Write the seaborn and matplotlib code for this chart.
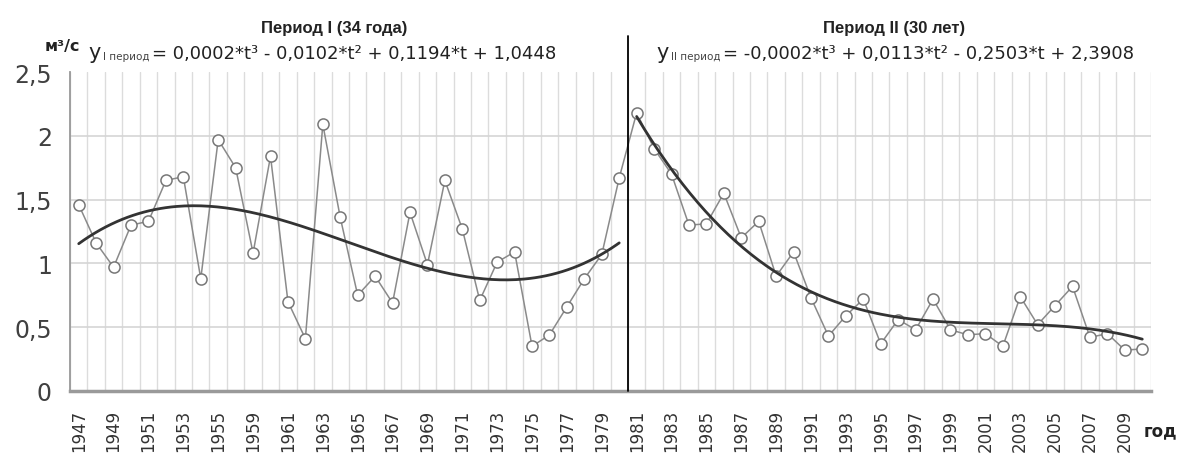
import numpy as np
import pandas as pd
import matplotlib
matplotlib.use("Agg")
import matplotlib.pyplot as plt
import seaborn as sns

# Period I (1947-1980), as plotted (one category per point)
years_1 = list(range(1947, 1956)) + [1958] + list(range(1959, 1981))
flow_1 = [1.46, 1.16, 0.97, 1.30, 1.33, 1.65, 1.68, 0.88, 1.97, 1.75,
          1.08, 1.84, 0.70, 0.41, 2.09, 1.36, 0.75, 0.90, 0.69, 1.40,
          0.99, 1.65, 1.27, 0.71, 1.01, 1.09, 0.35, 0.44, 0.66, 0.88,
          1.07, 1.67]

# Period II (1981-2010)
years_2 = list(range(1981, 2011))
flow_2 = [2.18, 1.90, 1.70, 1.30, 1.31, 1.55, 1.20, 1.33, 0.90, 1.09,
          0.73, 0.43, 0.59, 0.72, 0.37, 0.56, 0.48, 0.72, 0.48, 0.44,
          0.45, 0.35, 0.74, 0.52, 0.67, 0.82, 0.42, 0.45, 0.32, 0.33]

y_ticks = [0, 0.5, 1, 1.5, 2, 2.5]
y_labels = ['0', '0,5', '1', '1,5', '2', '2,5']

title_1 = "Период I (34 года)"
title_2 = "Период II (30 лет)"
eq_1 = "= 0,0002*t³ - 0,0102*t² + 0,1194*t + 1,0448"
eq_2 = "= -0,0002*t³ + 0,0113*t² - 0,2503*t + 2,3908"

W, H = 1178, 456


def px(x, y):
    return x / W, 1 - y / H


sns.set_style("white")
plt.rcParams['font.family'] = ['DejaVu Sans']
arial = ['Liberation Sans', 'DejaVu Sans']

years = years_1 + years_2
df = pd.DataFrame({'idx': np.arange(len(years)), 'flow': flow_1 + flow_2})

fig = plt.figure(figsize=(W / 100, H / 100), dpi=100)
ax = fig.add_axes([70 / W, (H - 392) / H, (1151 - 70) / W, (392 - 73) / H])

sns.lineplot(data=df, x='idx', y='flow', ax=ax, color='#8a8a8a', lw=1.1,
             marker='o', markersize=8, markerfacecolor='white',
             markeredgecolor='#777777', markeredgewidth=1.1, zorder=3)

# cubic trends per period (like Excel polynomial trendline)
for start, vals in ((0, flow_1), (len(flow_1), flow_2)):
    t = np.arange(1, len(vals) + 1)
    coef = np.polyfit(t, vals, 3)
    tt = np.linspace(1, len(vals), 200)
    trend = pd.DataFrame({'idx': start + tt - 1, 'flow': np.polyval(coef, tt)})
    sns.lineplot(data=trend, x='idx', y='flow', ax=ax, color='#333333',
                 lw=2.0, zorder=4)

ax.set_xlim(-0.5, len(years) - 0.5)
ax.set_ylim(0, 2.5)
ax.set_xlabel('')
ax.set_ylabel('')

ax.set_xticks(np.arange(0, len(years), 2))
ax.set_xticklabels([str(years[i]) for i in range(0, len(years), 2)],
                   rotation=90, fontsize=12, color='#333333')
ax.set_xticks(np.arange(-0.5, len(years), 1), minor=True)
ax.set_yticks(y_ticks)
ax.set_yticklabels(y_labels, fontsize=17, color='#404040')

ax.tick_params(axis='x', which='major', length=0, pad=13)
ax.tick_params(axis='x', which='minor', length=4, color='#aaaaaa', width=1)
ax.tick_params(axis='y', which='major', length=6, color='#999999', width=1.2, pad=7)

ax.grid(which='minor', axis='x', color='#dcdcdc', lw=1)
ax.grid(which='major', axis='y', color='#d5d5d5', lw=1.2)
ax.yaxis.get_gridlines()[-1].set_visible(False)

for side in ['top', 'right']:
    ax.spines[side].set_visible(False)
ax.spines['left'].set_color('#999999')
ax.spines['left'].set_linewidth(1.3)
ax.spines['bottom'].set_color('#9a9a9a')
ax.spines['bottom'].set_linewidth(2.5)

# boundary between periods
ax.axvline(len(flow_1) - 0.5, ymin=0, ymax=(392 - 37) / (392 - 73),
           color='black', lw=1.3, clip_on=False, zorder=5)

# titles and equations
fig.text(*px(334, 28), title_1, ha='center', va='center', fontsize=12,
         fontweight='bold', family=arial, color='#222222')
fig.text(*px(894, 28), title_2, ha='center', va='center', fontsize=12,
         fontweight='bold', family=arial, color='#222222')

for x0, sub, eq in ((88, "I период", eq_1), (656, "II период", eq_2)):
    t1 = fig.text(*px(x0, 59), "y", fontsize=15, va='baseline', color='#222222')
    t2 = ax.annotate(sub, xy=(1, 0), xycoords=t1, xytext=(2, 1),
                     textcoords='offset points', fontsize=7.5, va='bottom',
                     color='#444444', annotation_clip=False)
    ax.annotate(eq, xy=(1, 0), xycoords=t2, xytext=(2, -1),
                textcoords='offset points', fontsize=13.0, va='bottom',
                color='#222222', annotation_clip=False)

fig.text(*px(62, 46), "м³/с", ha='center', va='center', fontsize=11.5,
         fontweight='bold', color='#222222')
fig.text(*px(1160, 431), "год", ha='center', va='center', fontsize=12,
         fontweight='bold', color='#222222')

fig.savefig("out.png", dpi=100)
